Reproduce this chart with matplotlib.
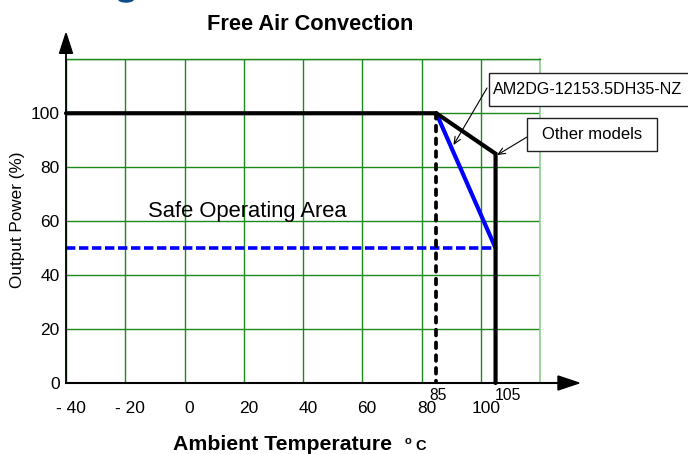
import matplotlib
matplotlib.use("Agg")
import matplotlib.pyplot as plt
from matplotlib.patches import Polygon, Rectangle, Ellipse
from matplotlib.transforms import ScaledTranslation, blended_transform_factory

plt.rcParams['font.family'] = ['Liberation Sans', 'DejaVu Sans']

# ---- data ----
x_ticks = [-40, -20, 0, 20, 40, 60, 80, 100, 120]
x_tick_labels = ["- 40", "- 20", "0", "20", "40", "60", "80", "100", ""]
y_ticks = [0, 20, 40, 60, 80, 100, 120]
y_tick_labels = ["0", "20", "40", "60", "80", "100", ""]

other_temp = [-40, 85, 105, 105]
other_power = [100, 100, 85, 0]
am2dg_temp = [85, 105]
am2dg_power = [100, 50]
half_temp = [-40, 105]
half_power = [50, 50]
knee_temp = [85, 85]
knee_power = [100, 0]
marker_temps = [85, 105]
marker_labels = ["85", "105"]

W, H = 688, 454
fig = plt.figure(figsize=(W / 100, H / 100), dpi=100)

def fx(x):
    return x / W

def fy(y):
    return 1 - y / H

ax_l, ax_r, ax_t, ax_b = 66, 540, 59.3, 383
ax = fig.add_axes([fx(ax_l), fy(ax_b), (ax_r - ax_l) / W, (ax_b - ax_t) / H])
ax.set_xlim(-40, 120)
ax.set_ylim(0, 120)

grid_green = '#1a8a1a'
ax.set_xticks(x_ticks)
ax.set_xticklabels(x_tick_labels, fontsize=12.5)
ax.set_yticks(y_ticks)
ax.set_yticklabels(y_tick_labels, fontsize=12.5)
ax.tick_params(axis='x', length=0, pad=13)
ax.tick_params(axis='y', length=0, pad=4.5)
for lab in ax.get_xticklabels():
    lab.set_transform(lab.get_transform() + ScaledTranslation(5 / 100, 0, fig.dpi_scale_trans))
ax.grid(True, color=grid_green, lw=1.0, zorder=0)
ax.set_axisbelow(True)

ax.spines['top'].set_color(grid_green)
ax.spines['top'].set_linewidth(1.0)
ax.spines['right'].set_color('#8fcf8f')
ax.spines['right'].set_linewidth(1.2)
ax.spines['left'].set_visible(False)
ax.spines['bottom'].set_visible(False)

# axes with arrows (axes fraction coords)
ax.plot([0, 0], [0, 1.02], color='black', lw=1.3, transform=ax.transAxes, clip_on=False, zorder=5)
ax.plot([0, 1.04], [0, 0], color='black', lw=1.5, transform=ax.transAxes, clip_on=False, zorder=5)
aw, ah = ax_r - ax_l, ax_b - ax_t
ax.add_patch(Polygon([(-6.5 / aw, 1 + 6 / ah), (6.5 / aw, 1 + 6 / ah), (0, 1 + 26 / ah)],
                     closed=True, color='black', transform=ax.transAxes, clip_on=False, zorder=6))
ax.add_patch(Polygon([(1 + 18 / aw, -7 / ah), (1 + 18 / aw, 7 / ah), (1 + 39 / aw, 0)],
                     closed=True, color='black', transform=ax.transAxes, clip_on=False, zorder=6))

# curves
ax.plot(half_temp, half_power, color='#0000ff', lw=2.6, dashes=(2.6, 1.0),
        dash_capstyle='butt', zorder=3, clip_on=False)
ax.plot(am2dg_temp, am2dg_power, color='#0000ff', lw=3.0, zorder=4,
        solid_capstyle='round')
ax.plot(knee_temp, knee_power, color='black', lw=2.7, dashes=(1.5, 1.9),
        dash_capstyle='round', zorder=4)
ax.plot(other_temp, other_power, color='black', lw=3.0, zorder=5, clip_on=False,
        solid_joinstyle='miter', solid_capstyle='round')

# special temperature labels
trans = blended_transform_factory(ax.transData, ax.transAxes)
for t, lab, dx in zip(marker_temps, marker_labels, [2, 12]):
    ax.text(t, -13 / ah, lab, transform=trans + ScaledTranslation(dx / 100, 0, fig.dpi_scale_trans),
            ha='center', va='center', fontsize=11.3)

# texts
fig.text(fx(310), fy(30), "Free Air Convection", ha='center', va='baseline',
         fontsize=15.7, fontweight='bold')
fig.text(fx(173), fy(450), "Ambient Temperature", ha='left', va='baseline',
         fontsize=15.3, fontweight='bold')
fig.text(fx(405), fy(444), "o", ha='left', va='baseline', fontsize=8, fontweight='bold')
fig.text(fx(415), fy(450), "C", ha='left', va='baseline', fontsize=10.5, fontweight='bold')
fig.text(fx(18), fy(220), "Output Power (%)", rotation=90, ha='center', va='center',
         fontsize=12.3)
fig.text(fx(148), fy(217), "Safe Operating Area", ha='left', va='baseline', fontsize=15.8)

# annotation boxes
fig.patches.append(Rectangle((fx(489), fy(106)), 205 / W, 33 / H, transform=fig.transFigure,
                             facecolor='white', edgecolor='#222222', lw=1.0, figure=fig))
fig.text(fx(493), fy(89), "AM2DG-12153.5DH35-NZ", ha='left', va='center', fontsize=11.6)
fig.patches.append(Rectangle((fx(527), fy(151)), 130 / W, 33 / H, transform=fig.transFigure,
                             facecolor='white', edgecolor='#222222', lw=1.0, figure=fig))
fig.text(fx(592), fy(134.5), "Other models", ha='center', va='center', fontsize=12)

arrow_kw = dict(arrowstyle='->,head_length=0.5,head_width=0.22', color='black', lw=0.8,
                shrinkA=0, shrinkB=0)
ax.annotate('', xy=(90.8, 88.2), xycoords='data', xytext=(487, H - 88),
            textcoords='figure pixels', arrowprops=arrow_kw)
ax.annotate('', xy=(105.5, 84.5), xycoords='data', xytext=(527, H - 137),
            textcoords='figure pixels', arrowprops=arrow_kw)

# cut-off heading fragment at the very top
fig.patches.append(Ellipse((fx(126), fy(-1)), 15 / W, 6 / H, transform=fig.transFigure,
                           color='#0b4a8b', figure=fig))

fig.savefig("out.png", dpi=100)
